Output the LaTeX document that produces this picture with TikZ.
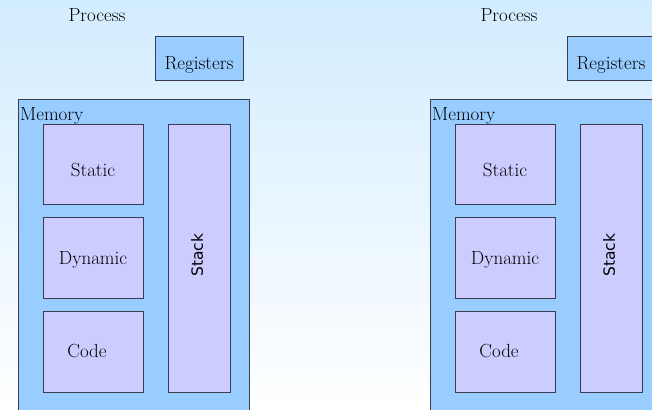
\documentclass[tikz,border=0pt]{standalone}
\usepackage{fontspec}
\newfontfamily\stacksans{DejaVu Sans}
\definecolor{bgtop}{RGB}{210,236,255}
\definecolor{memblue}{RGB}{153,204,255}
\definecolor{partlilac}{RGB}{204,204,255}
\definecolor{edgegray}{RGB}{60,60,80}
\begin{document}
\begin{tikzpicture}[x=1pt,y=-1pt,
  box/.style={draw=edgegray, line width=0.9pt, anchor=north west, inner sep=0pt, outer sep=0pt},
  membox/.style={box, fill=memblue},
  partbox/.style={box, fill=partlilac},
  lbl/.style={font=\fontsize{19}{22}\selectfont, inner sep=0pt},
  stacklbl/.style={font=\stacksans\fontsize{15.5}{18}\selectfont, inner sep=0pt, rotate=90}
]
\useasboundingbox (0,0) rectangle (652,409);
\clip (0,0) rectangle (652,409);
\shade[top color=bgtop, bottom color=white] (0,0) rectangle (652,409);
\foreach \o/\s in {0/L,412/R}{
  \begin{scope}[xshift=\o pt]
    \node[lbl] (proc\s) at (97,15) {Process};
    \node[membox, minimum width=88pt, minimum height=44pt] (reg\s) at (155,36) {};
    \node[lbl, anchor=base] (regt\s) at (199,70) {Registers};
    \node[membox, minimum width=231pt, minimum height=330pt] (mem\s) at (18,99) {};
    \node[lbl, anchor=base west] (memt\s) at (20,120) {Memory};
    \node[partbox, minimum width=100pt, minimum height=80pt] (stat\s) at (43,124) {};
    \node[partbox, minimum width=100pt, minimum height=81pt] (dyn\s) at (43,217) {};
    \node[partbox, minimum width=100pt, minimum height=81pt] (code\s) at (43,311) {};
    \node[partbox, minimum width=62.5pt, minimum height=268pt] (stack\s) at (168,124) {};
    \node[lbl, anchor=base] (statt\s) at (93,176) {Static};
    \node[lbl, anchor=base] (dynt\s) at (93,264) {Dynamic};
    \node[lbl, anchor=base] (codet\s) at (87,357) {Code};
    \node[stacklbl] (stackt\s) at (197,255) {Stack};
  \end{scope}
}
\end{tikzpicture}
\end{document}
